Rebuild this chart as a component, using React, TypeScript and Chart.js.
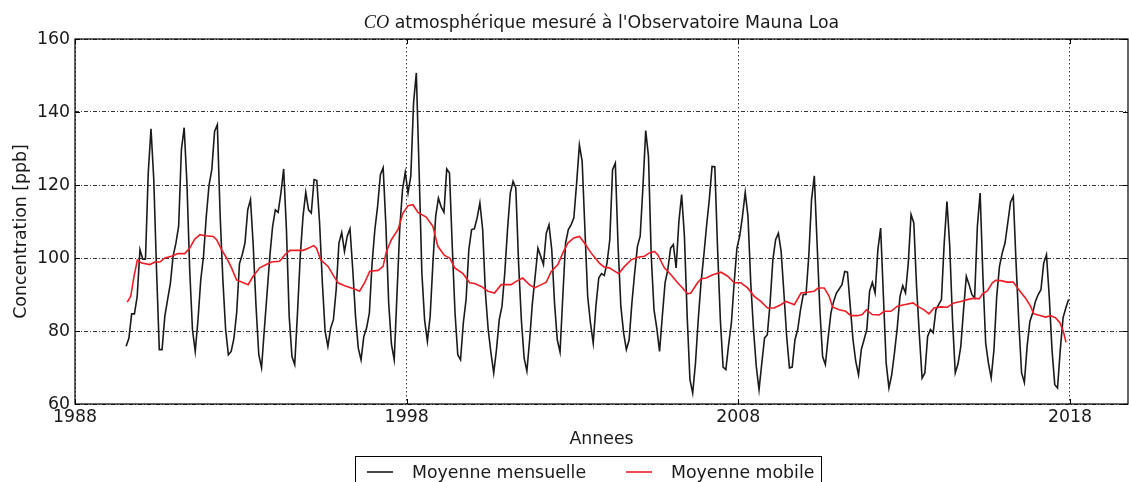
import { useEffect, useRef } from 'react';
import { Chart, registerables } from 'chart.js';

Chart.register(...registerables);

// ---- Data ----
const startYear = 1989;
const startMonth = 7; // July 1989

// Monthly mean CO (ppb), Jul 1989 .. Dec 2017
const monthlyCO = [
  // 1989 (Jul-Dec)
  75.8, 78.0, 84.7, 84.7, 89.5, 102.3,
  // 1990
  99.7, 99.7, 123.3, 135.4, 121.5, 96.8, 74.9, 74.9, 84.0, 88.6, 93.0, 100.5,
  // 1991
  104.0, 108.7, 129.7, 135.7, 120.5, 96.8, 80.4, 74.4, 83.0, 94.0, 100.5, 111.4,
  // 1992
  120.0, 124.2, 134.7, 136.5, 112.0, 94.0, 80.4, 73.5, 74.4, 78.0, 85.0, 98.4,
  // 1993
  100.9, 104.1, 113.2, 116.0, 103.2, 86.8, 73.5, 69.9, 80.4, 90.4, 100.5, 108.7,
  // 1994
  113.2, 112.5, 117.8, 124.4, 107.8, 84.0, 73.0, 70.8, 84.9, 100.5, 111.4, 118.0,
  // 1995
  113.2, 112.3, 121.5, 121.2, 109.6, 93.2, 79.9, 75.8, 80.8, 83.1, 91.3, 104.1,
  // 1996
  107.0, 101.8, 106.0, 108.0, 96.8, 84.0, 75.3, 72.1, 78.5, 80.8, 84.9, 98.6,
  // 1997
  107.8, 114.2, 122.8, 124.7, 108.7, 87.7, 76.3, 72.1, 90.0, 108.0, 118.7, 123.5,
  // 1998
  117.8, 122.4, 142.5, 150.7, 124.0, 96.0, 83.0, 77.2, 84.0, 98.6, 111.4, 116.4,
  // 1999
  114.0, 112.5, 124.4, 123.3, 103.2, 85.0, 73.5, 72.1, 82.2, 88.6, 102.3, 107.8,
  // 2000
  108.0, 111.0, 115.1, 107.8, 90.4, 80.4, 74.0, 68.5, 74.9, 83.1, 86.8, 95.9,
  // 2001
  107.8, 117.8, 121.0, 119.2, 98.6, 83.1, 72.6, 69.0, 77.6, 87.7, 95.0, 102.7,
  // 2002
  100.5, 98.2, 106.7, 109.1, 102.3, 87.7, 77.6, 74.2, 89.5, 104.1, 107.8, 109.1,
  // 2003
  111.0, 120.5, 131.0, 126.5, 107.8, 89.5, 82.2, 76.7, 87.0, 94.5, 95.7, 95.2,
  // 2004
  98.6, 105.0, 124.2, 126.0, 103.2, 86.8, 79.5, 74.9, 77.6, 87.7, 95.9, 103.2,
  // 2005
  106.0, 119.6, 134.9, 127.8, 100.5, 85.8, 80.8, 74.4, 84.0, 93.2, 96.8, 102.7,
  // 2006
  103.7, 97.3, 110.0, 117.4, 106.0, 84.0, 66.7, 63.0, 71.2, 83.1, 93.2, 100.5,
  // 2007
  108.7, 116.0, 125.1, 125.0, 102.5, 83.1, 70.1, 69.4, 76.3, 82.2, 93.2, 102.7,
  // 2008
  106.0, 111.4, 118.0, 111.4, 93.2, 80.4, 70.3, 63.9, 71.2, 78.1, 79.0, 87.7,
  // 2009
  99.5, 105.0, 106.8, 101.8, 90.4, 78.5, 69.9, 70.1, 77.6, 80.4, 85.8, 90.0,
  // 2010
  90.0, 100.5, 116.0, 122.5, 104.1, 85.8, 73.0, 70.8, 78.1, 84.9, 88.1, 90.4,
  // 2011
  91.5, 92.7, 96.3, 96.1, 86.8, 77.6, 71.7, 68.0, 74.9, 77.6, 80.4, 90.9,
  // 2012
  93.3, 90.4, 102.3, 108.2, 89.5, 71.2, 64.4, 68.0, 74.0, 80.8, 89.5, 92.4,
  // 2013
  90.4, 98.6, 111.9, 109.6, 92.2, 79.0, 67.1, 68.5, 78.5, 80.4, 79.5, 85.8,
  // 2014
  87.2, 88.6, 104.1, 115.5, 103.2, 83.1, 68.5, 71.0, 75.8, 85.8, 95.0, 92.7,
  // 2015
  90.0, 89.0, 108.7, 117.8, 95.0, 76.7, 71.2, 67.1, 74.9, 89.5, 97.7, 101.4,
  // 2016
  104.1, 109.6, 115.3, 116.9, 98.6, 82.2, 68.5, 65.9, 75.8, 82.6, 84.9, 88.1,
  // 2017
  90.0, 91.3, 98.6, 100.9, 89.5, 74.9, 65.3, 64.4, 74.9, 83.6, 86.3, 88.6,
];

// Moving average
const maYears = [
  1989.575, 1989.68, 1989.78, 1989.88, 1990.01, 1990.26, 1990.41, 1990.56, 1990.71, 1990.91,
  1991.11, 1991.31, 1991.46, 1991.61, 1991.77, 1991.92, 1992.17, 1992.27, 1992.42, 1992.57,
  1992.72, 1992.87, 1992.97, 1993.22, 1993.37, 1993.57, 1993.77, 1993.92, 1994.17, 1994.33,
  1994.48, 1994.88, 1995.03, 1995.2, 1995.28, 1995.41, 1995.63, 1995.78, 1995.93, 1996.13,
  1996.33, 1996.43, 1996.58, 1996.73, 1996.89, 1997.14, 1997.29, 1997.39, 1997.54, 1997.74,
  1997.89, 1998.04, 1998.19, 1998.34, 1998.59, 1998.79, 1998.94, 1999.14, 1999.3, 1999.45,
  1999.7, 1999.9, 2000.05, 2000.25, 2000.45, 2000.65, 2000.85, 2001.15, 2001.3, 2001.5,
  2001.7, 2001.86, 2002.06, 2002.21, 2002.36, 2002.56, 2002.71, 2002.86, 2003.04, 2003.21,
  2003.36, 2003.56, 2003.71, 2003.81, 2003.96, 2004.11, 2004.27, 2004.39, 2004.57, 2004.77,
  2004.97, 2005.17, 2005.32, 2005.47, 2005.57, 2005.77, 2005.97, 2006.17, 2006.32, 2006.47,
  2006.57, 2006.77, 2006.88, 2007.03, 2007.23, 2007.48, 2007.68, 2007.88, 2008.08, 2008.28,
  2008.48, 2008.68, 2008.88, 2009.08, 2009.28, 2009.44, 2009.69, 2009.89, 2010.09, 2010.29,
  2010.41, 2010.59, 2010.74, 2010.84, 2011.04, 2011.24, 2011.39, 2011.59, 2011.74, 2011.86,
  2012.04, 2012.25, 2012.4, 2012.6, 2012.8, 2013.0, 2013.27, 2013.4, 2013.6, 2013.75,
  2013.9, 2014.1, 2014.3, 2014.5, 2014.71, 2014.91, 2015.11, 2015.26, 2015.36, 2015.51,
  2015.66, 2015.76, 2015.91, 2016.11, 2016.29, 2016.46, 2016.66, 2016.81, 2016.91, 2017.12,
  2017.27, 2017.42, 2017.57, 2017.7, 2017.8, 2017.88,
];
const maValues = [
  87.9, 89.5, 95.0, 99.4, 98.6, 98.2, 98.9, 98.9, 100.0, 100.5,
  101.2, 101.2, 102.7, 105.2, 106.4, 106.1, 105.9, 105.0, 102.3, 100.0,
  97.3, 94.0, 93.6, 92.7, 95.0, 97.3, 98.2, 98.9, 99.1, 100.9,
  102.1, 102.1, 102.7, 103.4, 102.7, 99.5, 97.7, 95.4, 93.2, 92.4,
  91.8, 91.5, 90.9, 93.2, 96.4, 96.6, 97.7, 101.8, 105.0, 107.8,
  112.3, 114.3, 114.6, 112.5, 111.2, 108.7, 103.2, 100.7, 100.0, 97.3,
  95.7, 93.2, 93.0, 92.2, 90.9, 90.4, 92.7, 92.7, 93.6, 94.5,
  92.7, 91.8, 92.7, 93.4, 96.3, 98.2, 101.4, 104.1, 105.5, 105.9,
  104.1, 101.4, 99.7, 98.6, 97.5, 97.3, 96.4, 95.7, 97.7, 99.5,
  100.2, 100.5, 101.4, 101.8, 100.9, 97.3, 95.4, 93.2, 91.8, 90.2,
  90.4, 93.2, 94.3, 94.5, 95.4, 96.1, 95.0, 93.2, 93.2, 91.8,
  89.5, 88.1, 86.3, 86.3, 87.2, 88.1, 87.2, 90.4, 90.6, 90.9,
  91.8, 91.8, 89.5, 86.6, 85.8, 85.4, 84.2, 84.2, 84.5, 85.8,
  84.5, 84.4, 85.4, 85.4, 86.8, 87.2, 87.7, 86.8, 85.8, 84.7,
  86.3, 86.6, 86.5, 87.7, 88.1, 88.6, 89.0, 88.8, 90.1, 91.0,
  93.2, 93.9, 93.8, 93.4, 93.4, 91.3, 89.0, 86.8, 84.7, 84.2,
  83.8, 84.2, 83.6, 82.2, 79.9, 76.9,
];

const xTicks = [1988, 1998, 2008, 2018];
const yTicks = [60, 80, 100, 120, 140, 160];
const xMin = 1988;
const xMax = 2019.75;
const yMin = 60;
const yMax = 160;

const titleMath = 'CO';
const titleRest = " atmosphérique mesuré à l'Observatoire Mauna Loa";
const xLabel = 'Annees';
const yLabel = 'Concentration [ppb]';
const seriesLabels = ['Moyenne mensuelle', 'Moyenne mobile'];

// ---- Styles ----
const FONT = "'DejaVu Sans', sans-serif";
const FS = 17.33;
const TEXT = '#1a1a1a';
const BLACK_LINE = '#1a1a1a';
const RED_LINE = '#ee1c25';

const decorPlugin = {
  id: 'decor',
  afterDraw(chart: any) {
    const { ctx, chartArea: ca, scales } = chart;
    ctx.save();
    ctx.setLineDash([]);
    // frame
    ctx.strokeStyle = '#000';
    ctx.lineWidth = 1.2;
    ctx.strokeRect(ca.left, ca.top, ca.right - ca.left, ca.bottom - ca.top);
    // inward ticks
    ctx.lineWidth = 1;
    const tl = 5;
    ctx.beginPath();
    yTicks.forEach((v) => {
      const y = Math.round(scales.y.getPixelForValue(v)) + 0.5;
      ctx.moveTo(ca.left, y); ctx.lineTo(ca.left + tl, y);
      ctx.moveTo(ca.right, y); ctx.lineTo(ca.right - tl, y);
    });
    xTicks.forEach((v) => {
      const x = Math.round(scales.x.getPixelForValue(v)) + 0.5;
      ctx.moveTo(x, ca.bottom); ctx.lineTo(x, ca.bottom - tl);
      ctx.moveTo(x, ca.top); ctx.lineTo(x, ca.top + tl);
    });
    ctx.stroke();

    // title
    const cx = (ca.left + ca.right) / 2;
    ctx.fillStyle = TEXT;
    ctx.textBaseline = 'alphabetic';
    const mathFont = `italic ${FS + 1}px 'Liberation Serif', serif`;
    const restFont = `${FS}px ${FONT}`;
    ctx.font = mathFont;
    const w1 = ctx.measureText(titleMath).width;
    ctx.font = restFont;
    const w2 = ctx.measureText(titleRest).width;
    let tx = cx - (w1 + w2) / 2;
    const ty = 28;
    ctx.textAlign = 'left';
    ctx.font = mathFont;
    ctx.fillText(titleMath, tx, ty);
    ctx.font = restFont;
    ctx.fillText(titleRest, tx + w1, ty);

    // x axis title
    ctx.textAlign = 'center';
    ctx.textBaseline = 'middle';
    ctx.font = `${FS}px ${FONT}`;
    ctx.fillText(xLabel, cx, ca.bottom + 35);

    // y axis title
    ctx.save();
    ctx.translate(21.5, (ca.top + ca.bottom) / 2 + 10);
    ctx.rotate(-Math.PI / 2);
    ctx.fillText(yLabel, 0, 0);
    ctx.restore();

    // legend
    const lx = 355, ly = 456, lw = 467, lh = 40;
    ctx.fillStyle = '#fff';
    ctx.fillRect(lx, ly, lw, lh);
    ctx.strokeStyle = '#000';
    ctx.lineWidth = 1;
    ctx.strokeRect(lx + 0.5, ly + 0.5, lw - 1, lh);
    const rowY = 472;
    ctx.lineWidth = 1.6;
    ctx.strokeStyle = BLACK_LINE;
    ctx.beginPath(); ctx.moveTo(367, rowY); ctx.lineTo(393, rowY); ctx.stroke();
    ctx.strokeStyle = RED_LINE;
    ctx.beginPath(); ctx.moveTo(626, rowY); ctx.lineTo(652, rowY); ctx.stroke();
    ctx.fillStyle = TEXT;
    ctx.textAlign = 'left';
    ctx.textBaseline = 'alphabetic';
    ctx.font = `${FS}px ${FONT}`;
    ctx.fillText(seriesLabels[0], 412, 477.5);
    ctx.fillText(seriesLabels[1], 671, 477.5);
    ctx.restore();
  },
};

export default function App() {
  const canvasRef = useRef<HTMLCanvasElement | null>(null);

  useEffect(() => {
    const canvas = canvasRef.current;
    if (!canvas) return;
    const monthly = monthlyCO.map((v, i) => ({
      x: startYear + (startMonth - 1 + i + 0.5) / 12,
      y: v,
    }));
    const ma = maYears.map((x, i) => ({ x, y: maValues[i] }));

    const chart = new Chart(canvas, {
      type: 'line',
      data: {
        datasets: [
          {
            label: seriesLabels[0],
            data: monthly,
            borderColor: BLACK_LINE,
            borderWidth: 1.6,
            pointRadius: 0,
            fill: false,
            tension: 0,
            order: 2,
          },
          {
            label: seriesLabels[1],
            data: ma,
            borderColor: RED_LINE,
            borderWidth: 1.6,
            pointRadius: 0,
            fill: false,
            tension: 0,
            order: 1,
          },
        ],
      },
      options: {
        responsive: false,
        animation: false,
        devicePixelRatio: 1,
        parsing: false as any,
        normalized: true,
        layout: { padding: { top: 39, right: 1, left: 0, bottom: 0 } },
        plugins: {
          legend: { display: false },
          title: { display: false },
          tooltip: { enabled: false },
        },
        events: [],
        scales: {
          x: {
            type: 'linear',
            min: xMin,
            max: xMax,
            afterBuildTicks: (s: any) => {
              s.ticks = xTicks.map((v) => ({ value: v }));
            },
            afterFit: (s: any) => {
              s.height = 78;
            },
            ticks: {
              font: { family: FONT, size: FS },
              color: TEXT,
              padding: 3,
              maxRotation: 0,
              autoSkip: false,
              callback: (v: any) => String(v),
            },
            grid: { color: '#000', lineWidth: 0.8, drawTicks: false },
            border: { display: false, dash: [1.5, 2.5] },
          },
          y: {
            type: 'linear',
            min: yMin,
            max: yMax,
            afterBuildTicks: (s: any) => {
              s.ticks = yTicks.map((v) => ({ value: v }));
            },
            afterFit: (s: any) => {
              s.width = 75;
            },
            ticks: {
              font: { family: FONT, size: FS },
              color: TEXT,
              padding: 5,
              callback: (v: any) => String(v),
            },
            grid: { color: '#000', lineWidth: 0.8, drawTicks: false },
            border: { display: false, dash: [4, 2, 1, 2] },
          },
        },
      },
      plugins: [decorPlugin],
    });
    return () => chart.destroy();
  }, []);

  return (
    <div style={{ position: 'fixed', left: 0, top: 0, width: 1129, height: 482, background: '#fff' }}>
      <canvas ref={canvasRef} width={1129} height={482} style={{ display: 'block' }} />
    </div>
  );
}
